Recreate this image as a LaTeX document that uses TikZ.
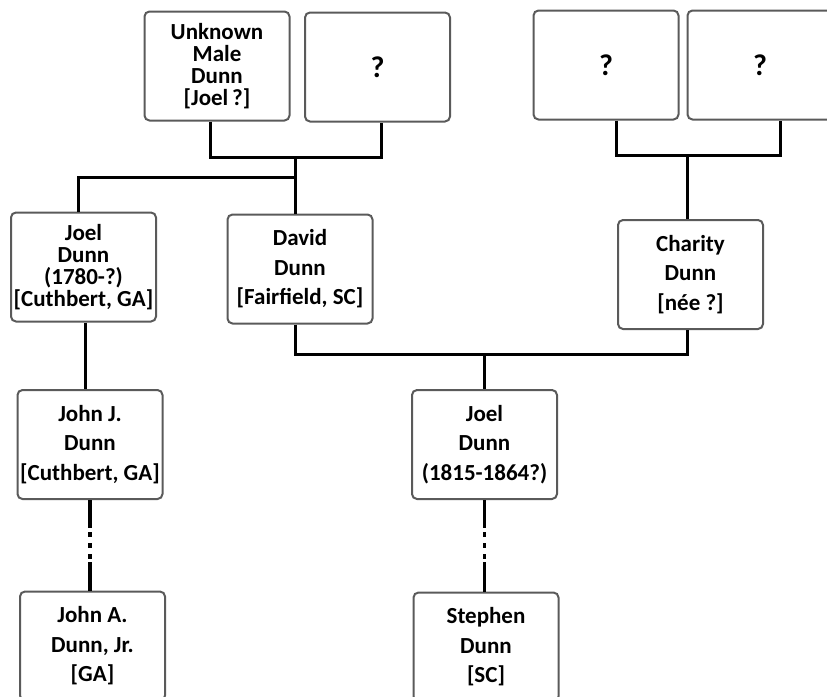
\documentclass[tikz,border=0pt]{standalone}
\usepackage{fontspec}
\setmainfont{Carlito}
\usepackage{tikz}
\usetikzlibrary{positioning}

\definecolor{boxgray}{HTML}{5A5A5A}

\begin{document}
\begin{tikzpicture}[
        x=1pt, y=-1pt,
        person/.style={rectangle, draw=boxgray, line width=2pt, rounded corners=5pt, align=center, inner sep=1pt,
            minimum width=145pt, minimum height=109pt, font=\bfseries\fontsize{23}{29.5}\selectfont},
        tight/.style={font=\bfseries\fontsize{23}{22}\selectfont},
        unknown/.style={font=\bfseries\fontsize{30}{30}\selectfont},
        link/.style={line width=3pt, black},
        gap/.style={line width=3.5pt, black, dash pattern=on 28pt off 4pt on 5pt off 6pt on 5pt off 6pt on 5pt off 3pt on 40pt}
        ]
        \useasboundingbox (0,0) rectangle (827,696);
        \clip (0,0) rectangle (827,696);

        % grandparents
        \node[person, tight] (unk) at (217,66) {Unknown\\Male\\Dunn\\{[Joel\,?]}};
        \node[person, unknown] (wifeA) at (377.5,67) {?};
        \node[person, unknown] (fatherC) at (606,65) {?};
        \node[person, unknown] (motherC) at (760,65) {?};

        % children
        \node[person, tight] (joelA) at (83.5,267) {Joel\\Dunn\\(1780-?)\\{[Cuthbert, GA]}};
        \node[person] (david) at (300,269) {David\\Dunn\\{[Fairfield, SC]}};
        \node[person] (charity) at (690.5,274.5) {Charity\\Dunn\\{[née ?]}};

        \node[person] (johnJ) at (90,444.5) {John J.\\Dunn\\{[Cuthbert, GA]}};
        \node[person] (joelB) at (484.5,444.5) {Joel\\Dunn\\(1815-1864?)};

        \node[person] (johnA) at (92.5,646) {John A.\\Dunn, Jr.\\{[GA]}};
        \node[person] (stephen) at (486,647) {Stephen\\Dunn\\{[SC]}};

        % junctions
        \coordinate (m1) at (295,157);
        \coordinate (b1) at (295,177);
        \coordinate (m2) at (687,155);
        \coordinate (m3) at (484.5,354);

        \draw[link] ([xshift=-7pt]unk.south) |- (m1) -| ([xshift=4pt]wifeA.south);
        \draw[link] (m1) -- (m1 |- david.north);
        \draw[link] (b1) -| ([xshift=-5pt]joelA.north);

        \draw[link] ([xshift=10pt]fatherC.south) |- (m2) -| ([xshift=20pt]motherC.south);
        \draw[link] (m2) -- (m2 |- charity.north);

        \draw[link] ([xshift=-5pt]david.south) |- (m3) -| ([xshift=-3pt]charity.south);
        \draw[link] (m3) -- (m3 |- joelB.north);

        \draw[link] ([xshift=1.5pt]joelA.south) -- ([xshift=1.5pt]joelA.south |- johnJ.north);
        \draw[gap] (johnJ.south) -- (johnJ.south |- johnA.north);
        \draw[gap] (joelB.south) -- (joelB.south |- stephen.north);
    \end{tikzpicture}
\end{document}
